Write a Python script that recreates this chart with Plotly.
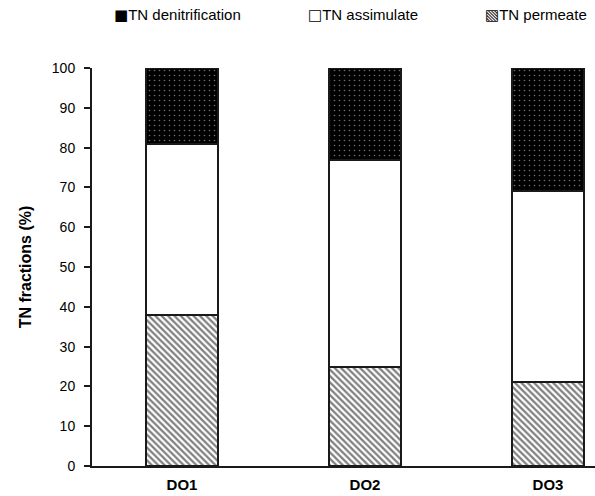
import plotly.graph_objects as go

categories = ["DO1", "DO2", "DO3"]
tn_permeate = [38, 25, 21]
tn_assimulate = [43, 52, 48]
tn_denitrification = [19, 23, 31]
y_ticks = list(range(0, 101, 10))

legend_names = ["TN denitrification", "TN assimulate", "TN permeate"]
legend_glyphs = ["\u25A0", "\u25A1", "\u25A7"]

W, H = 595, 496
M_L, M_R, M_T, M_B = 92, 0, 68, 30
legend_px = [112, 306, 483]   # left edge of each legend entry
legend_py = 15                # vertical centre of the legend row

FONT = "Liberation Sans, Arial, sans-serif"
outline = dict(color="#1a1a1a", width=2)

fig = go.Figure()
fig.add_trace(go.Bar(
    name=legend_names[2], x=categories, y=tn_permeate,
    marker=dict(color="white", line=outline,
                pattern=dict(shape="\\", fgcolor="black", bgcolor="white",
                             size=4.5, solidity=0.5)),
))
fig.add_trace(go.Bar(
    name=legend_names[1], x=categories, y=tn_assimulate,
    marker=dict(color="white", line=outline),
))
fig.add_trace(go.Bar(
    name=legend_names[0], x=categories, y=tn_denitrification,
    marker=dict(color="black", line=outline,
                pattern=dict(shape=".", fgcolor="#e0e0e0", bgcolor="black",
                             size=5, solidity=0.08)),
))

# legend row drawn as text with square glyphs
plot_w, plot_h = W - M_L - M_R, H - M_T - M_B
for name, glyph, px in zip(legend_names, legend_glyphs, legend_px):
    fig.add_annotation(
        x=(px - M_L) / plot_w, y=(H - legend_py - M_B) / plot_h,
        xref="paper", yref="paper",
        xanchor="left", yanchor="middle", showarrow=False,
        text=f'<span style="font-family:DejaVu Sans;font-size:15px">{glyph}</span>{name}',
        font=dict(size=15, family=FONT, color="black"),
    )

fig.update_layout(
    width=W, height=H,
    barmode="stack", bargap=0.61,
    plot_bgcolor="white", paper_bgcolor="white",
    margin=dict(l=M_L, r=M_R, t=M_T, b=M_B),
    font=dict(family=FONT, size=14, color="black"),
    showlegend=False,
)
fig.update_xaxes(
    range=[-0.492, 2.257], showline=True, linecolor="#1a1a1a", linewidth=2,
    ticks="", showgrid=False, tickfont=dict(size=15, family=FONT),
    tickvals=[0, 1, 2], ticktext=[f"<b>{c}</b>" for c in categories],
    ticklabelstandoff=4,
)
fig.update_yaxes(
    range=[0, 100], tickvals=y_ticks, showline=True, linecolor="#1a1a1a", linewidth=2,
    ticks="outside", ticklen=6, tickwidth=1.5, tickcolor="#1a1a1a",
    showgrid=False, zeroline=False, tickfont=dict(size=14, family=FONT),
    ticklabelstandoff=6,
    title=dict(text="<b>TN fractions (%)</b>", font=dict(size=16, family=FONT), standoff=16),
)
fig.write_html("out.html")
